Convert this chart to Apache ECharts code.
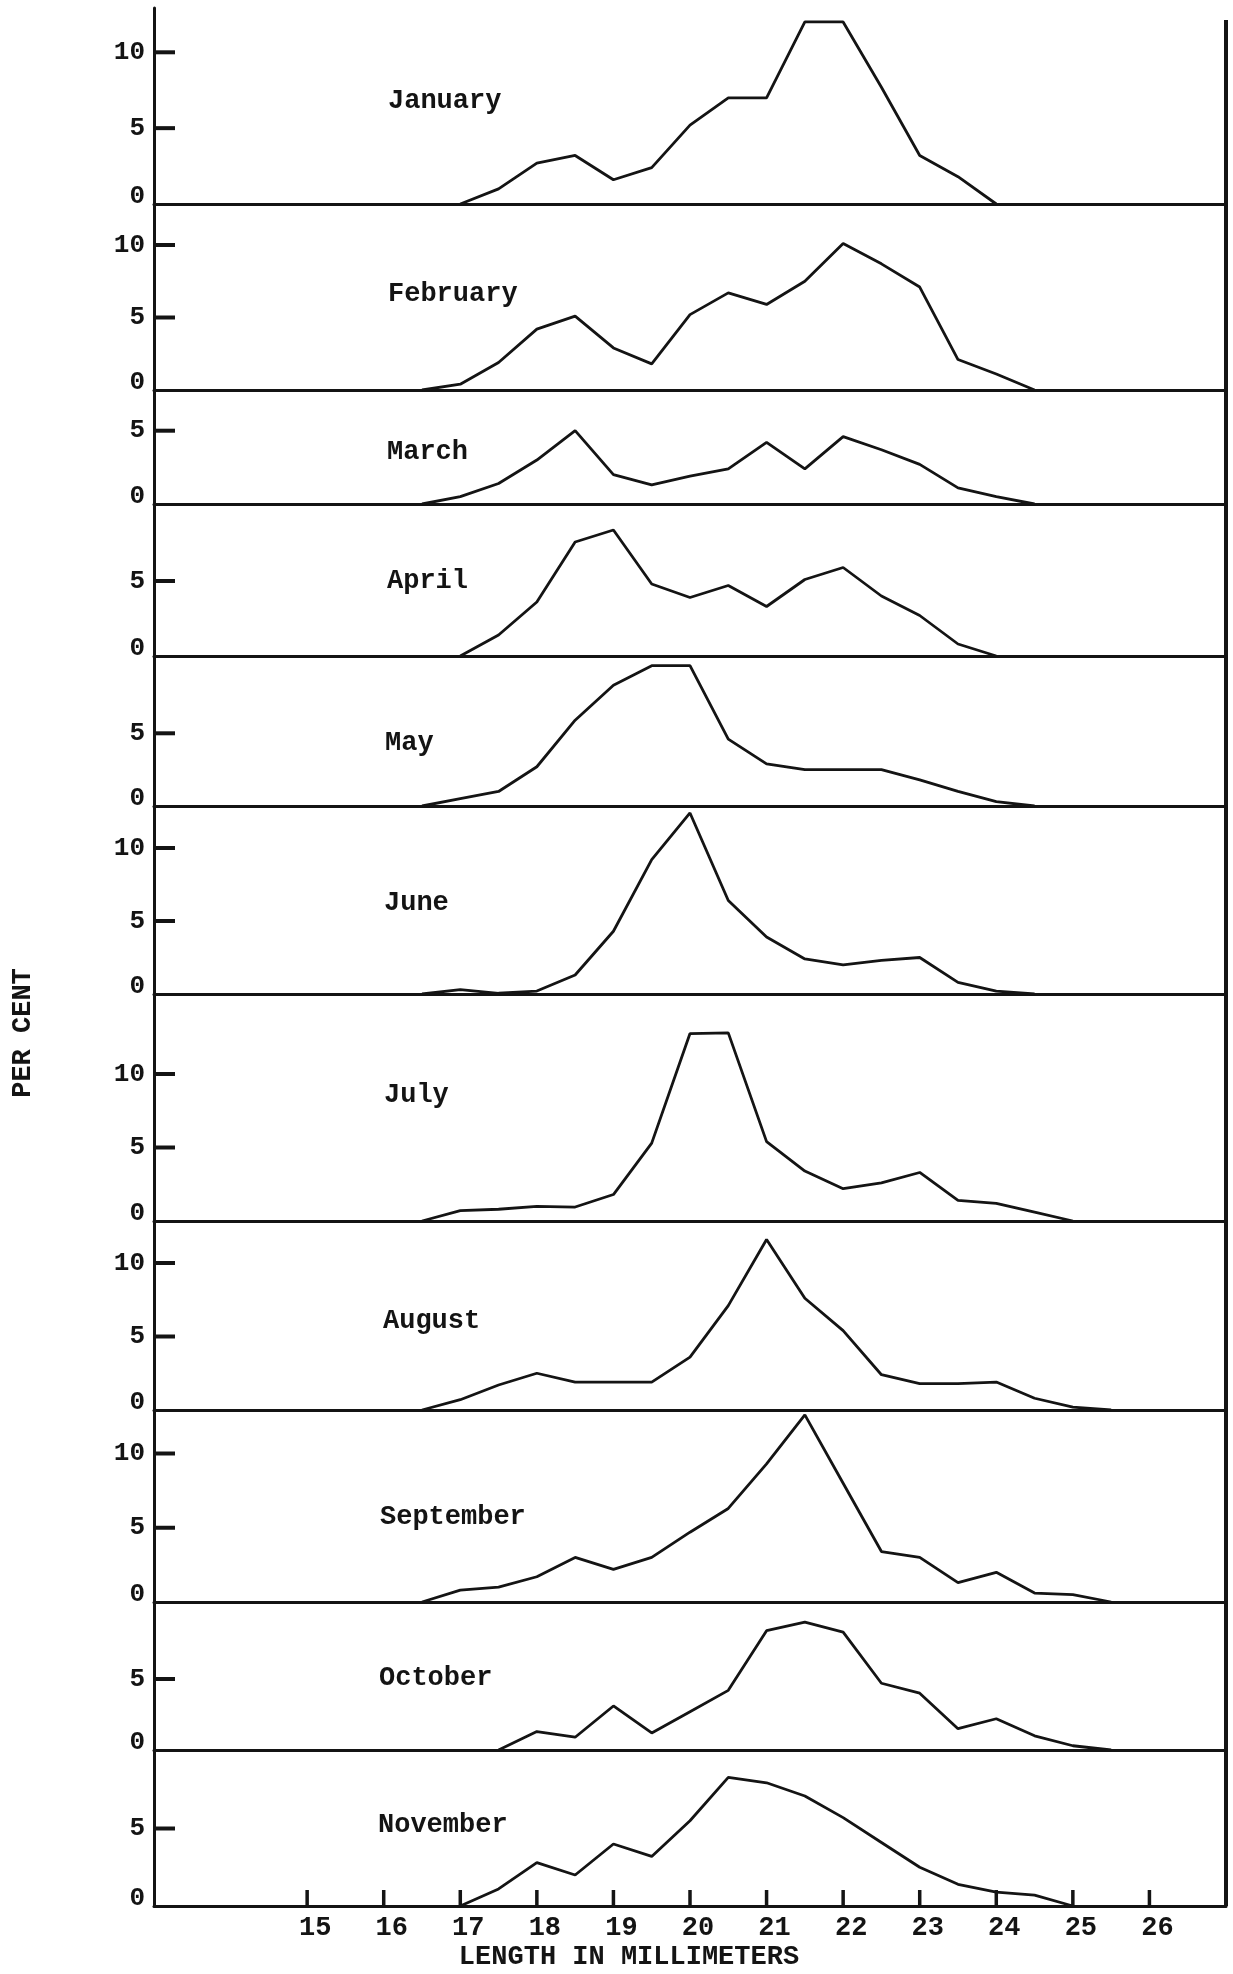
<!DOCTYPE html>
<html>
<head>
<meta charset="utf-8">
<script src="https://cdn.jsdelivr.net/npm/echarts@6/dist/echarts.min.js"></script>
<style>
html,body{margin:0;padding:0;background:#fff;}
#c{width:1233px;height:1974px;}
</style>
</head>
<body>
<div id="c"></div>
<script>
// ---------- DATA ----------
const lengths = [16,16.5,17,17.5,18,18.5,19,19.5,20,20.5,21,21.5,22,22.5,23,23.5,24,24.5,25,25.5];
const months = ['January','February','March','April','May','June','July','August','September','October','November'];
const january   = [null,null,0,1.0,2.7,3.2,1.6,2.4,5.2,7.0,7.0,12.0,12.0,7.7,3.2,1.8,0,null,null,null];
const february  = [null,0,0.4,1.9,4.2,5.1,2.9,1.8,5.2,6.7,5.9,7.5,10.1,8.7,7.1,2.1,1.1,0,null,null];
const march     = [null,0,0.5,1.4,3.0,5.0,2.0,1.3,1.9,2.4,4.2,2.4,4.6,3.7,2.7,1.1,0.5,0,null,null];
const april     = [null,null,0,1.4,3.6,7.6,8.4,4.8,3.9,4.7,3.3,5.1,5.9,4.0,2.7,0.8,0,null,null,null];
const may       = [null,0,0.5,1.0,2.7,5.9,8.3,9.65,9.65,4.6,2.9,2.5,2.5,2.5,1.8,1.0,0.3,0,null,null];
const june      = [null,0,0.3,0.05,0.2,1.3,4.3,9.2,12.4,6.4,3.9,2.4,2.0,2.3,2.5,0.8,0.2,0,null,null];
const july      = [null,0,0.7,0.8,1.0,0.95,1.8,5.3,12.75,12.8,5.4,3.4,2.2,2.6,3.3,1.4,1.2,0.6,0,null];
const august    = [null,0,0.7,1.7,2.5,1.9,1.9,1.9,3.6,7.1,11.6,7.6,5.4,2.4,1.8,1.8,1.9,0.8,0.2,0];
const september = [null,0,0.8,1.0,1.7,3.0,2.2,3.0,4.7,6.3,9.3,12.6,8.0,3.4,3.0,1.3,2.0,0.6,0.5,0];
const october   = [null,null,null,0,1.3,0.9,3.1,1.2,2.7,4.2,8.4,9.0,8.3,4.7,4.0,1.5,2.2,1.0,0.3,0];
const november  = [null,null,0,1.1,2.8,2.0,4.0,3.2,5.5,8.3,7.95,7.1,5.7,4.1,2.5,1.4,0.9,0.7,0,null];
const xTickValues = [15,16,17,18,19,20,21,22,23,24,25,26];
const yTickValues = [5,10,15];
const yTickStep = 5;
const xTitle = 'LENGTH IN MILLIMETERS';
const yTitle = 'PER CENT';

// ---------- LAYOUT (pixels) ----------
const monthValues = [january,february,march,april,may,june,july,august,september,october,november];
const TOPS  = [8,204,390,504,656,806,994,1221,1410,1602,1750];
const BASES = [204,390,504,656,806,994,1221,1410,1602,1750,1906];
const PX_PER_UNIT = [15.17,14.5,14.66,15.0,14.54,14.6,14.7,14.7,14.85,14.2,15.5];
const LABEL_X = [388,388,387,387,385,384,384,383,380,379,378];
const LABEL_Y = [101,294,452,581,743,903,1095,1321,1517,1678,1825];
const PLOT_LEFT = 154, PLOT_W = 1072;
const X_MIN = 13, X_MAX = 27;
const X_TICK_PX = 16, Y_TICK_PX = 21;
const FONT = "'Liberation Mono','DejaVu Sans Mono',monospace";
const INK = '#141414';
const last = months.length - 1;
const pxPerMm = PLOT_W / (X_MAX - X_MIN);

const grids = [], xAxes = [], yAxes = [], series = [], graphics = [];
months.forEach((m, i) => {
  const h = BASES[i] - TOPS[i];
  const ymax = h / PX_PER_UNIT[i];
  const labelLimit = ymax - 2;
  grids.push({left: PLOT_LEFT, width: PLOT_W, top: TOPS[i], height: h, containLabel: false, outerBoundsMode: 'none'});
  xAxes.push({
    type: 'value', gridIndex: i, min: X_MIN, max: X_MAX,
    axisLine: {show: true, onZero: false, lineStyle: {color: INK, width: 3}},
    axisTick: {show: false},
    axisLabel: i === last ? {
      show: true, customValues: xTickValues, margin: 9,
      formatter: v => '{a|' + v + '}',
      rich: {a: {fontFamily: FONT, fontSize: 27, fontWeight: 'bold', color: INK, padding: [0,0,0,16], lineHeight: 27}}
    } : {show: false},
    splitLine: {show: false}
  });
  yAxes.push({
    type: 'value', gridIndex: i, min: 0, max: ymax, interval: yTickStep,
    axisLine: {show: true, lineStyle: {color: INK, width: 3}},
    axisTick: {show: false},
    axisLabel: {
      show: true, margin: 9, showMaxLabel: false,
      formatter: v => {
        if (v > labelLimit) return '';
        if (Math.abs(v / yTickStep - Math.round(v / yTickStep)) > 1e-6) return '';
        return v === 0 ? '{z|0}' : '{n|' + Math.round(v) + '}';
      },
      rich: {
        z: {fontFamily: FONT, fontSize: 26, fontWeight: 'bold', color: INK, padding: [0,0,16,0]},
        n: {fontFamily: FONT, fontSize: 26, fontWeight: 'bold', color: INK}
      }
    },
    splitLine: {show: false}
  });
  const pts = [];
  lengths.forEach((x, j) => { if (monthValues[i][j] !== null) pts.push([x, monthValues[i][j]]); });
  series.push({
    type: 'line', name: m, xAxisIndex: i, yAxisIndex: i, data: pts,
    symbol: 'none', silent: true, lineStyle: {color: INK, width: 2.8}, z: 3
  });
  // y tick marks (short horizontal strokes inside the axis), drawn in data space
  const dx = Y_TICK_PX / pxPerMm;
  yTickValues.filter(v => v <= labelLimit).forEach(v => {
    series.push({
      type: 'line', xAxisIndex: i, yAxisIndex: i, data: [[X_MIN, v], [X_MIN + dx, v]],
      symbol: 'none', silent: true, clip: false, lineStyle: {color: INK, width: 4, cap: 'butt'}, z: 4
    });
  });
  graphics.push({
    type: 'text', x: LABEL_X[i], y: LABEL_Y[i],
    style: {text: m, font: 'bold 27px ' + FONT, fill: INK, textVerticalAlign: 'middle', textAlign: 'left'}
  });
});

// x tick marks on the bottom panel, drawn in data space
const tickH = X_TICK_PX / PX_PER_UNIT[last];
xTickValues.forEach(v => {
  series.push({
    type: 'line', xAxisIndex: last, yAxisIndex: last, data: [[v, 0], [v, tickH]],
    symbol: 'none', silent: true, clip: false, lineStyle: {color: INK, width: 3.5, cap: 'butt'}, z: 4
  });
});

graphics.push({type: 'line', shape: {x1: 1226, y1: 20, x2: 1226, y2: 1906}, style: {stroke: INK, lineWidth: 4}});
graphics.push({type: 'text', x: 629, y: 1957, style: {text: xTitle, font: 'bold 27px ' + FONT, fill: INK, textAlign: 'center', textVerticalAlign: 'middle'}});
graphics.push({type: 'text', x: 23, y: 1033, rotation: Math.PI / 2, style: {text: yTitle, font: 'bold 27px ' + FONT, fill: INK, textAlign: 'center', textVerticalAlign: 'middle'}});

const chart = echarts.init(document.getElementById('c'), null, {renderer: 'canvas'});
chart.setOption({
  animation: false,
  backgroundColor: '#ffffff',
  grid: grids, xAxis: xAxes, yAxis: yAxes, series: series, graphic: graphics
});
</script>
</body>
</html>
